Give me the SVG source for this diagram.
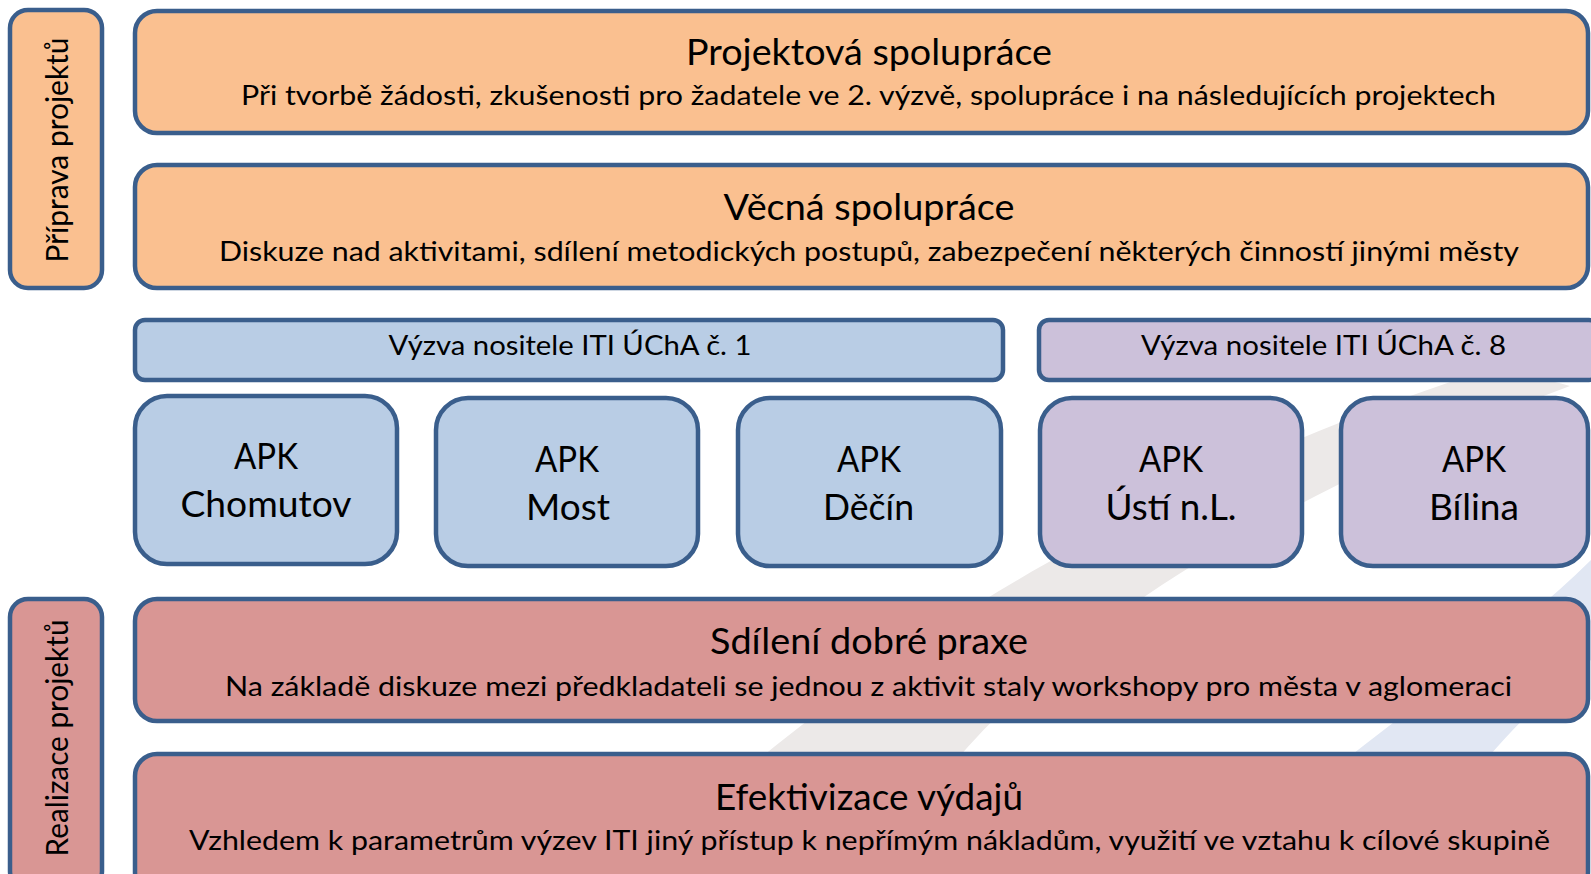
<svg xmlns="http://www.w3.org/2000/svg" width="1591" height="874" viewBox="0 0 1591 874">
<style>
  .box { stroke: #3A5E8C; stroke-width: 4.5; }
  .org { fill: #FAC090; }
  .blu { fill: #B9CDE5; }
  .pur { fill: #CCC1DA; }
  .red { fill: #D99694; }
  text { font-family: Lato, "Liberation Sans", sans-serif; fill: #000; text-anchor: middle; }
  .t { font-size: 36px; }
  .s { font-size: 27px; }
  .v { font-size: 30px; }
  .a { font-size: 36.5px; }
</style>
<rect width="1591" height="874" fill="#FFFFFF"/>
<g id="background">
  <path d="M 740 775 C 900 640 1150 480 1480 372 Q 1530 374 1570 386 C 1260 500 1050 640 940 780 Z" fill="#ECE9E8"/>
  <path d="M 1320 780 C 1420 700 1520 630 1591 560 L 1591 660 C 1540 700 1500 740 1470 780 Z" fill="#E1E7F3"/>
</g>
<g id="label-priprava">
  <rect class="box org" x="10" y="10" width="92" height="278" rx="18"/>
  <text class="v" transform="translate(68,150) rotate(-90)" textLength="225" lengthAdjust="spacingAndGlyphs">Příprava projektů</text>
</g>
<g id="label-realizace">
  <rect class="box red" x="10" y="599" width="92" height="290" rx="18"/>
  <text class="v" transform="translate(68,738) rotate(-90)" textLength="237" lengthAdjust="spacingAndGlyphs">Realizace projektů</text>
</g>
<g id="projektova">
  <rect class="box org" x="135" y="11" width="1453" height="122" rx="22"/>
  <text class="t" x="869" y="65" textLength="366" lengthAdjust="spacingAndGlyphs">Projektová spolupráce</text>
  <text class="s" x="868.5" y="105" textLength="1255" lengthAdjust="spacingAndGlyphs">Při tvorbě žádosti, zkušenosti pro žadatele ve 2. výzvě, spolupráce i na následujících projektech</text>
</g>
<g id="vecna">
  <rect class="box org" x="135" y="165" width="1453" height="123" rx="22"/>
  <text class="t" x="869" y="220" textLength="291" lengthAdjust="spacingAndGlyphs">Věcná spolupráce</text>
  <text class="s" x="869" y="261" textLength="1300" lengthAdjust="spacingAndGlyphs">Diskuze nad aktivitami, sdílení metodických postupů, zabezpečení některých činností jinými městy</text>
</g>
<g id="vyzva1">
  <rect class="box blu" x="135" y="320" width="868" height="60" rx="10"/>
  <text class="s" x="570" y="355" textLength="363" lengthAdjust="spacingAndGlyphs">Výzva nositele ITI ÚChA č. 1</text>
</g>
<g id="vyzva8">
  <rect class="box pur" x="1039" y="320" width="560" height="60" rx="10"/>
  <text class="s" x="1323.5" y="355" textLength="365" lengthAdjust="spacingAndGlyphs">Výzva nositele ITI ÚChA č. 8</text>
</g>
<g id="apk-chomutov">
  <rect class="box blu" x="135" y="396" width="262" height="168" rx="32"/>
  <text class="a" x="266" y="469" textLength="64" lengthAdjust="spacingAndGlyphs">APK</text>
  <text class="a" x="266" y="517" textLength="171" lengthAdjust="spacingAndGlyphs">Chomutov</text>
</g>
<g id="apk-most">
  <rect class="box blu" x="436" y="398" width="262" height="168" rx="32"/>
  <text class="a" x="567" y="472" textLength="64" lengthAdjust="spacingAndGlyphs">APK</text>
  <text class="a" x="568" y="520" textLength="84" lengthAdjust="spacingAndGlyphs">Most</text>
</g>
<g id="apk-decin">
  <rect class="box blu" x="738" y="398" width="263" height="168" rx="32"/>
  <text class="a" x="869" y="472" textLength="64" lengthAdjust="spacingAndGlyphs">APK</text>
  <text class="a" x="868.5" y="520" textLength="91" lengthAdjust="spacingAndGlyphs">Děčín</text>
</g>
<g id="apk-usti">
  <rect class="box pur" x="1040" y="398" width="262" height="168" rx="32"/>
  <text class="a" x="1171" y="472" textLength="64" lengthAdjust="spacingAndGlyphs">APK</text>
  <text class="a" x="1171" y="520" textLength="131" lengthAdjust="spacingAndGlyphs">Ústí n.L.</text>
</g>
<g id="apk-bilina">
  <rect class="box pur" x="1341" y="398" width="247" height="168" rx="32"/>
  <text class="a" x="1474" y="472" textLength="64" lengthAdjust="spacingAndGlyphs">APK</text>
  <text class="a" x="1474" y="520" textLength="90" lengthAdjust="spacingAndGlyphs">Bílina</text>
</g>
<g id="sdileni">
  <rect class="box red" x="135" y="599" width="1453" height="122" rx="22"/>
  <text class="t" x="869" y="654" textLength="318" lengthAdjust="spacingAndGlyphs">Sdílení dobré praxe</text>
  <text class="s" x="868.5" y="696" textLength="1287" lengthAdjust="spacingAndGlyphs">Na základě diskuze mezi předkladateli se jednou z aktivit staly workshopy pro města v aglomeraci</text>
</g>
<g id="efektivizace">
  <rect class="box red" x="135" y="754" width="1453" height="140" rx="22"/>
  <text class="t" x="869" y="810" textLength="308" lengthAdjust="spacingAndGlyphs">Efektivizace výdajů</text>
  <text class="s" x="869.5" y="850" textLength="1361" lengthAdjust="spacingAndGlyphs">Vzhledem k parametrům výzev ITI jiný přístup k nepřímým nákladům, využití ve vztahu k cílové skupině</text>
</g>
<g id="connectors"></g>
</svg>
